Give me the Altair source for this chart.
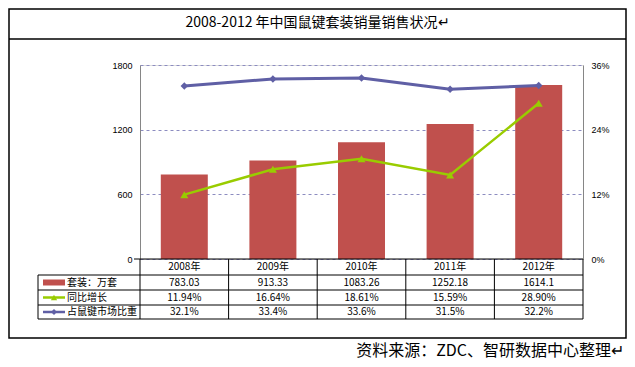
import altair as alt
import pandas as pd

# ---------------- data ----------------
years = ["2008年", "2009年", "2010年", "2011年", "2012年"]
sales = [783.03, 913.33, 1083.26, 1252.18, 1614.1]      # 套装：万套
growth = [11.94, 16.64, 18.61, 15.59, 28.90]            # 同比增长 (%)
share = [32.1, 33.4, 33.6, 31.5, 32.2]                  # 占鼠键市场比重 (%)
left_ticks = [0, 600, 1200, 1800]
right_ticks = [0, 12, 24, 36]
row_names = ["套装：万套", "同比增长", "占鼠键市场比重"]
title_text = "2008-2012 年中国鼠键套装销量销售状况↵"
source_text = "资料来源：ZDC、智研数据中心整理↵"

# ---------------- layout ----------------
W, H = 443, 194
FONT = "Noto Sans CJK SC"
BAR_C = "#C0504D"
GREEN = "#99CC00"
BLUE = "#5F5FA5"
GRID_C = "#8C8CC0"
AX_C = "#868686"

df = pd.DataFrame({
    "year": years,
    "sales": sales,
    "growth": growth,
    "share": share,
    "sales_lbl": [str(v) for v in sales],
    "growth_lbl": [f"{v:.2f}%" for v in growth],
    "share_lbl": [f"{v:.1f}%" for v in share],
})
one = pd.DataFrame({"k": [0]})

xscale = alt.Scale(type="band", domain=years, paddingInner=0, paddingOuter=0)
Xc = alt.X("year:N", scale=xscale, axis=None, bandPosition=0.5)
X0 = alt.X("year:N", scale=xscale, axis=None, bandPosition=0)

# bars on the left axis
bars = alt.Chart(df).mark_bar(size=47, color=BAR_C).encode(
    x=alt.X("year:N", scale=xscale, axis=None),
    y=alt.Y("sales:Q", scale=alt.Scale(domain=[0, 1800]),
            axis=alt.Axis(orient="left", values=left_ticks, title=None, grid=True,
                          format="d",
                          gridDash=[3, 3], gridColor=GRID_C, gridWidth=1,
                          domainColor=AX_C, ticks=False, labelPadding=8,
                          labelFontSize=9, labelFont="Liberation Sans",
                          labelColor="#000000")),
)

ry = alt.Scale(domain=[0, 36])
raxis = alt.Axis(orient="right", values=right_ticks, title=None, grid=False,
                 domainColor=AX_C, ticks=False, labelPadding=8, labelFontSize=9,
                 labelFont="Liberation Sans", labelColor="#000000",
                 labelExpr="datum.value + '%'")

share_line = alt.Chart(df).mark_line(color=BLUE, strokeWidth=3).encode(
    x=Xc, y=alt.Y("share:Q", scale=ry, axis=raxis))
share_pts = alt.Chart(df).mark_point(shape="diamond", filled=True, size=55,
                                     color=BLUE, opacity=1).encode(
    x=Xc, y=alt.Y("share:Q", scale=ry, axis=raxis))
growth_line = alt.Chart(df).mark_line(color=GREEN, strokeWidth=2.5).encode(
    x=Xc, y=alt.Y("growth:Q", scale=ry, axis=raxis))
growth_pts = alt.Chart(df).mark_point(shape="triangle-up", filled=True, size=65,
                                      color=GREEN, opacity=1).encode(
    x=Xc, y=alt.Y("growth:Q", scale=ry, axis=raxis))
lines = alt.layer(share_line, growth_line, share_pts, growth_pts)


def hrule(x1, x2, y, color="#000000", w=1.0):
    return alt.Chart(one).mark_rule(color=color, strokeWidth=w).encode(
        x=alt.value(x1), x2=alt.value(x2), y=alt.value(y))


def vrule(x, y1, y2, color="#000000", w=1.0):
    return alt.Chart(one).mark_rule(color=color, strokeWidth=w).encode(
        x=alt.value(x), y=alt.value(y1), y2=alt.value(y2))


# ---------------- data table ----------------
edges = [H, H + 16, H + 31, H + 46, H + 60]
centers = [(edges[i] + edges[i + 1]) / 2 for i in range(4)]
LX = -102

table = [
    hrule(-6, W, edges[0]),
    hrule(LX, W, edges[1]),
    hrule(LX, W, edges[2]),
    hrule(LX, W, edges[3]),
    hrule(LX, W, edges[4]),
    vrule(LX, edges[1], edges[4]),
    vrule(W, edges[0], edges[4]),
    alt.Chart(df).mark_rule(color="#000000", strokeWidth=1).encode(
        x=X0, y=alt.value(edges[0]), y2=alt.value(edges[4])),
]
for field, yc in zip(["year", "sales_lbl", "growth_lbl", "share_lbl"], centers):
    table.append(alt.Chart(df).mark_text(font=FONT, fontSize=10, color="#000000",
                                         baseline="middle").encode(
        x=Xc, y=alt.value(yc), text=alt.Text(f"{field}:N")))

# legend cells
SX1, SX2 = -97, -75
table += [
    alt.Chart(one).mark_rect(color=BAR_C).encode(
        x=alt.value(SX1), x2=alt.value(SX2),
        y=alt.value(centers[1] - 3), y2=alt.value(centers[1] + 3)),
    hrule(SX1, SX2, centers[2], GREEN, 2.5),
    alt.Chart(one).mark_point(shape="triangle-up", filled=True, size=40,
                              color=GREEN, opacity=1).encode(
        x=alt.value((SX1 + SX2) / 2), y=alt.value(centers[2])),
    hrule(SX1, SX2, centers[3], BLUE, 2.5),
    alt.Chart(one).mark_point(shape="diamond", filled=True, size=35,
                              color=BLUE, opacity=1).encode(
        x=alt.value((SX1 + SX2) / 2), y=alt.value(centers[3])),
]
for name, yc in zip(row_names, centers[1:]):
    lab = pd.DataFrame({"t": [name]})
    table.append(alt.Chart(lab).mark_text(font=FONT, fontSize=10, color="#000000",
                                          align="left", baseline="middle").encode(
        x=alt.value(SX2 + 2), y=alt.value(yc), text="t:N"))

# ---------------- frame, title, source ----------------
FL, FR, FT, FB = -131, 486, -56, 273
frame = [
    alt.Chart(one).mark_rect(fillOpacity=0, stroke="#000000", strokeWidth=1.5).encode(
        x=alt.value(FL), x2=alt.value(FR), y=alt.value(FT), y2=alt.value(FB)),
    hrule(FL, FR, -26, "#000000", 1.5),
    alt.Chart(pd.DataFrame({"t": [title_text]})).mark_text(
        font=FONT, fontSize=14, color="#000000", align="center", baseline="middle").encode(
        x=alt.value((FL + FR) / 2), y=alt.value(-42), text="t:N"),
    alt.Chart(pd.DataFrame({"t": [source_text]})).mark_text(
        font=FONT, fontSize=16, color="#000000", align="right", baseline="bottom").encode(
        x=alt.value(484), y=alt.value(294), text="t:N"),
]

chart = alt.layer(
    *frame, bars, lines, *table
).resolve_scale(y="independent").properties(
    width=W, height=H,
    padding={"left": 132, "top": 57, "right": 44, "bottom": 101},
    autosize=alt.AutoSizeParams(type="none"),
).configure_view(strokeWidth=0).configure(background="#ffffff")

chart.save("out.html", embed_options={"renderer": "svg", "actions": False})
